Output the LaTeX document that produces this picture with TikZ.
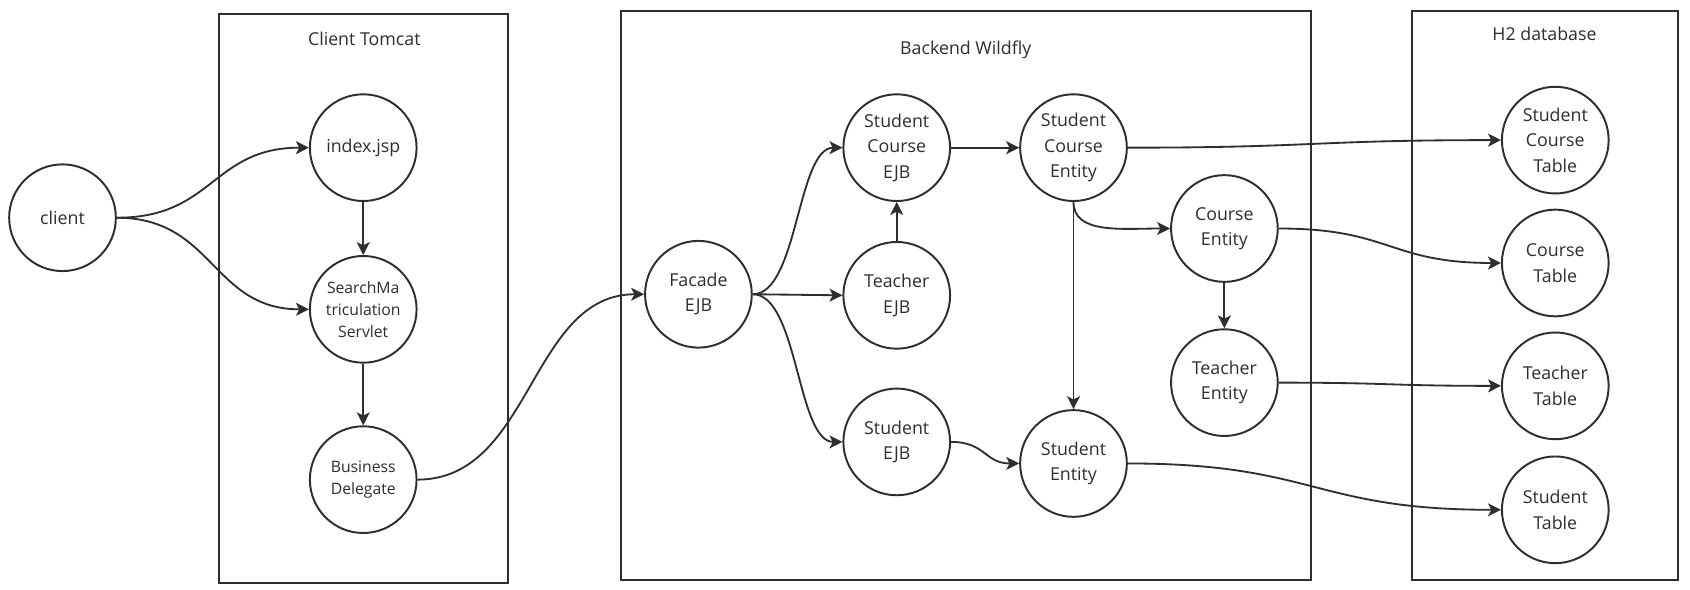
\documentclass[tikz,border=0pt]{standalone}
\usepackage{fontspec}
\setmainfont{Open Sans}
\usetikzlibrary{arrows.meta}
\definecolor{ink}{HTML}{2E2E2E}
\begin{document}
\begin{tikzpicture}[x=0.5pt,y=-0.5pt,
  nd/.style={circle,draw=ink,line width=0.9pt,minimum size=49.5pt,inner sep=0pt,align=center,text=ink,font=\fontsize{8.25}{11.75}\selectfont},
  sm/.style={font=\fontsize{7.3}{10.25}\selectfont},
  grp/.style={draw=ink,line width=0.9pt},
  ttl/.style={text=ink,font=\fontsize{8.25}{11.75}\selectfont},
  conn/.style={draw=ink,line width=0.85pt,-{Stealth[length=6pt,width=6pt,inset=1.5pt]}}]
\fill[white] (0,0) rectangle (1568,547);
\useasboundingbox (0,0) rectangle (1568,547);
% groups
\draw[grp] (203,13) rectangle (471,541);
\draw[grp] (576,10) rectangle (1216,538);
\draw[grp] (1310,10) rectangle (1557,538);
\node[ttl] (tTomcat) at (338,36) {Client Tomcat};
\node[ttl] (tWildfly) at (896,46) {Backend Wildfly};
\node[ttl] (tH2) at (1433,31) {H2 database};
% nodes
\node[nd] (client) at (58,202) {client};
\node[nd] (index) at (337,137) {index.jsp};
\node[nd,sm] (servlet) at (337,287) {SearchMa\\triculation\\Servlet};
\node[nd,sm] (bd) at (337,445) {Business\\Delegate};
\node[nd] (facade) at (648,273) {Facade\\EJB};
\node[nd] (scejb) at (832,137) {Student\\Course\\EJB};
\node[nd] (tejb) at (832,274) {Teacher\\EJB};
\node[nd] (sejb) at (832,410) {Student\\EJB};
\node[nd] (sce) at (996,137) {Student\\Course\\Entity};
\node[nd] (se) at (996,430) {Student\\Entity};
\node[nd] (ce) at (1136,212) {Course\\Entity};
\node[nd] (te) at (1136,355) {Teacher\\Entity};
\node[nd] (sct) at (1443,130) {Student\\Course\\Table};
\node[nd] (ct) at (1443,244) {Course\\Table};
\node[nd] (tt) at (1443,358) {Teacher\\Table};
\node[nd] (st) at (1443,473) {Student\\Table};
% connectors
\draw[conn] (client.east) .. controls +(90,0) and +(-90,0) .. (index.west);
\draw[conn] (client.east) .. controls +(90,0) and +(-90,0) .. (servlet.west);
\draw[conn] (index.south) -- (servlet.north);
\draw[conn] (servlet.south) -- (bd.north);
\draw[conn] (bd.east) .. controls +(106,0) and +(-106,0) .. (facade.west);
\draw[conn] (facade.east) .. controls +(42,0) and +(-42,0) .. (scejb.west);
\draw[conn] (facade.east) -- (tejb.west);
\draw[conn] (facade.east) .. controls +(42,0) and +(-42,0) .. (sejb.west);
\draw[conn] (tejb.north) -- (scejb.south);
\draw[conn] (scejb.east) -- (sce.west);
\draw[conn] (sejb.east) .. controls +(32,0) and +(-32,0) .. (se.west);
\draw[conn] (sce.south) -- (se.north);
\draw[conn] (sce.south) .. controls +(0,30) and +(-45,0) .. (ce.west);
\draw[conn] (ce.south) -- (te.north);
\draw[conn] (sce.east) .. controls +(174,0) and +(-174,0) .. (sct.west);
\draw[conn] (ce.east) .. controls +(104,0) and +(-104,0) .. (ct.west);
\draw[conn] (te.east) .. controls +(104,0) and +(-104,0) .. (tt.west);
\draw[conn] (se.east) .. controls +(174,0) and +(-174,0) .. (st.west);
\end{tikzpicture}
\end{document}
